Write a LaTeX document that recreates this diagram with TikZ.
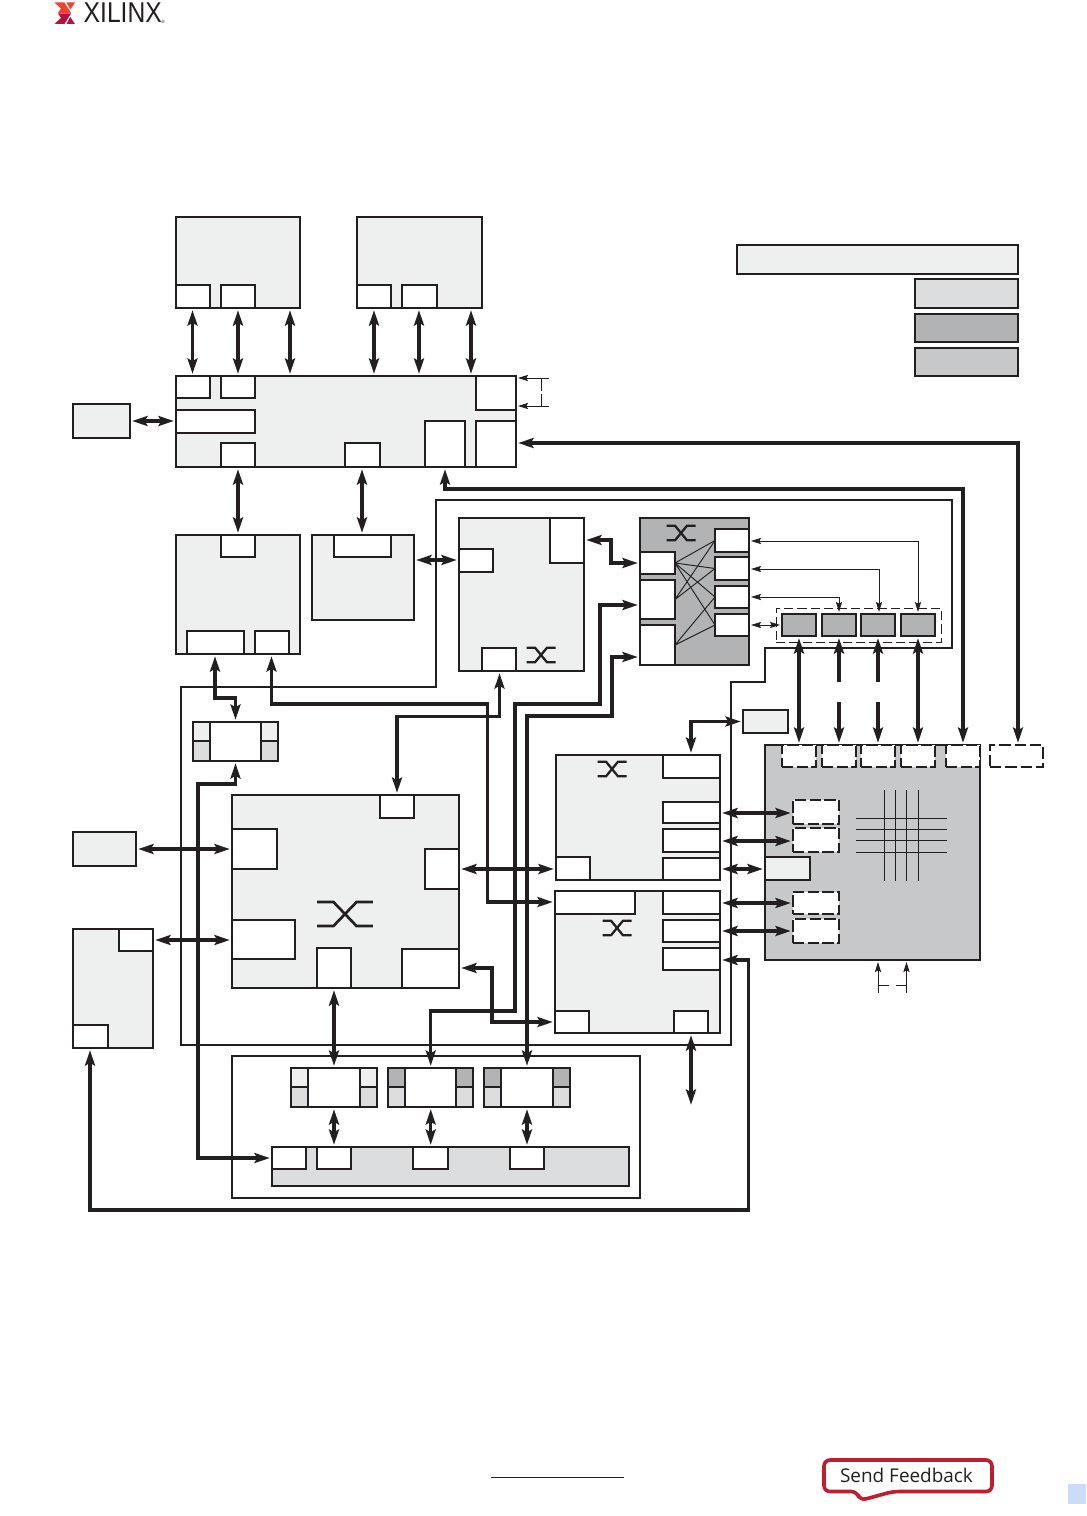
\documentclass[tikz,border=0pt]{standalone}
\usepackage{fontspec}
\setmainfont{Open Sans}
\newfontfamily\logofont{Liberation Sans}
\usetikzlibrary{arrows.meta}
\definecolor{ink}{HTML}{231F20}
\definecolor{lightc}{HTML}{EEF0EF}
\definecolor{midc}{HTML}{DCDDDE}
\definecolor{darkc}{HTML}{B1B3B4}
\definecolor{greyc}{HTML}{C6C8CA}
\definecolor{redc}{HTML}{BE1E2D}
\definecolor{orangec}{HTML}{EE4130}
\definecolor{crimc}{HTML}{B5123E}
\definecolor{bluec}{HTML}{C9DDFB}
\tikzset{
  px/.style={inner sep=0pt,outer sep=0pt,draw=ink,line width=1.5pt},
  whitebox/.style={px,fill=white},
  lightbox/.style={px,fill=lightc},
  midbox/.style={px,fill=midc},
  darkbox/.style={px,fill=darkc},
  greybox/.style={px,fill=greyc},
  dashbox/.style={px,fill=white,dash pattern=on 8.5pt off 2.5pt},
  openbox/.style={px,dash pattern=on 8.5pt off 3pt},
  thindash/.style={inner sep=0pt,outer sep=0pt,draw=ink,line width=.75pt,dash pattern=on 7pt off 3pt},
  thinframe/.style={draw=ink,line width=1.5pt},
  bigtip/.tip={Stealth[length=11.5pt,width=7.4pt,inset=2pt]},
  smalltip/.tip={Stealth[length=7.5pt,width=4.6pt,inset=1.2pt]},
  bus/.style={draw=ink,line width=2.3pt,miter limit=10,{bigtip}-{bigtip},shorten >=1.6pt,shorten <=1.6pt},
  busend/.style={draw=ink,line width=2.3pt,-{bigtip},shorten >=1.6pt},
  wire/.style={draw=ink,line width=.7pt,{smalltip}-{smalltip},shorten >=1.5pt,shorten <=1.5pt},
  wireend/.style={draw=ink,line width=.7pt,-{smalltip},shorten >=1.5pt},
  plain/.style={draw=ink,line width=.7pt},
  xwire/.style={draw=ink,line width=.7pt},
  swline/.style={draw=ink,line width=1.7pt},
}
\newcommand\boxpx[6]{%
  \pgfmathsetmacro\bw{(#5-#3)*0.75}%
  \pgfmathsetmacro\bh{(#6-#4)*0.75}%
  \pgfmathsetmacro\bcx{(#3+#5)/2}%
  \pgfmathsetmacro\bcy{(#4+#6)/2}%
  \node[#2,minimum width=\bw pt,minimum height=\bh pt] (#1) at (\bcx,\bcy) {};}
\newcommand\swicon[4]{%
  \begin{scope}[shift={(#1,#2)},xscale=#3,yscale=#4]
    \draw[swline] (-14.5,-7.3) -- (-6,-7.3) -- (6,7.3) -- (14.5,7.3);
    \draw[swline] (-14.5,7.3) -- (-6,7.3) -- (6,-7.3) -- (14.5,-7.3);
  \end{scope}}
\begin{document}
\begin{tikzpicture}[x=0.75pt,y=-0.75pt]
\useasboundingbox[fill=white] (0,0) rectangle (1086,1516);

% logo and footer
\fill[orangec] (54.5,2.5) -- (64.5,2.5) -- (71,13) -- (58,13) -- (61,8.5) -- cycle;
\fill[orangec] (66.5,2.5) -- (75,2.5) -- (70.3,9.5) -- cycle;
\fill[crimc] (58,13.5) -- (71,13.5) -- (64.5,24) -- (54.5,24) -- (61,18) -- cycle;
\fill[crimc] (66.5,24) -- (75,24) -- (70.3,17) -- cycle;
\node[inner sep=0pt,anchor=west,xscale=.86,font=\logofont\fontsize{21.5}{22}\selectfont,text=ink] (logotext) at (83.5,13) {XILINX};
\node[inner sep=0pt,font=\logofont\fontsize{3.5}{4}\selectfont,text=ink] (logomark) at (163,21.5) {®};
\coordinate (ulL) at (491,1477);
\coordinate (ulR) at (624,1477);
\draw[draw=ink,line width=.7pt] (ulL) -- (ulR);
\draw[redc,line width=2.7pt,fill=white,rounded corners=4.5pt]
  (824,1460) -- (992,1460) -- (992,1491.5) -- (893,1491.5) -- (860,1500.5) -- (857,1491.5) -- (824,1491.5) -- cycle;
\node[inner sep=0pt,text=ink,font=\fontsize{14.2}{16}\selectfont] (feedback) at (906.5,1475.5) {Send Feedback};
\fill[bluec] (1068,1484) rectangle (1086,1504);

% outer thin frame
\draw[thinframe] (436,500) -- (952,500) -- (952,648) -- (765,648) -- (765,682) -- (731,682) -- (731,1045) -- (181,1045) -- (181,687) -- (436,687) -- cycle;

% legend
\boxpx{lega}{lightbox}{737}{245}{1018}{274}
\boxpx{legb}{midbox}{915}{279}{1018}{308}
\boxpx{legc}{darkbox}{915}{314}{1018}{342}
\boxpx{legd}{greybox}{915}{348}{1018}{376}

% top memories
\boxpx{A}{lightbox}{176}{217}{300}{308}
\boxpx{Aa}{whitebox}{176}{285}{210}{308}
\boxpx{Ab}{whitebox}{221}{285}{255}{308}
\boxpx{B}{lightbox}{357}{217}{482}{308}
\boxpx{Ba}{whitebox}{357}{285}{391}{308}
\boxpx{Bb}{whitebox}{402}{285}{437}{308}

% main controller
\boxpx{C}{lightbox}{176}{376}{516}{467}
\boxpx{Ca}{whitebox}{176}{376}{210}{398}
\boxpx{Cb}{whitebox}{221}{376}{255}{398}
\boxpx{Cc}{whitebox}{176}{410}{255}{433}
\boxpx{Cd}{whitebox}{221}{443}{255}{467}
\boxpx{Ce}{whitebox}{345}{443}{380}{467}
\boxpx{Cf}{whitebox}{476}{376}{516}{410}
\boxpx{Cg}{whitebox}{425}{421}{465}{467}
\boxpx{Ch}{whitebox}{476}{421}{516}{467}
\boxpx{D}{lightbox}{73}{404}{130}{438}

% second row
\boxpx{E}{lightbox}{176}{535}{300}{654}
\boxpx{Ea}{whitebox}{221}{535}{255}{557}
\boxpx{Eb}{whitebox}{187}{631}{244}{654}
\boxpx{Ec}{whitebox}{255}{631}{289}{654}
\boxpx{F}{lightbox}{312}{535}{414}{620}
\boxpx{Fa}{whitebox}{334}{535}{391}{557}
\boxpx{G}{lightbox}{459}{518}{584}{671}
\boxpx{Ga}{whitebox}{550}{518}{584}{563}
\boxpx{Gb}{whitebox}{459}{549}{493}{572}
\boxpx{Gc}{whitebox}{482}{648}{516}{671}
\swicon{541}{655}{1}{1}

% grey switch
\boxpx{H}{darkbox}{640}{518}{749}{665}
\boxpx{Ha}{whitebox}{640}{552}{675}{574}
\boxpx{Hb}{whitebox}{640}{580}{675}{619}
\boxpx{Hc}{whitebox}{640}{625}{675}{665}
\boxpx{Hd}{whitebox}{715}{529}{749}{552}
\boxpx{He}{whitebox}{715}{557}{749}{580}
\boxpx{Hf}{whitebox}{715}{586}{749}{608}
\boxpx{Hg}{whitebox}{715}{614}{749}{636}
\swicon{681}{533}{1}{1}
\draw[xwire] (Ha.east) -- (Hd.west) (Ha.east) -- (He.west) (Ha.east) -- (Hf.west) (Ha.east) -- (Hg.west);
\draw[xwire] (Hb.east) -- (Hd.west) (Hb.east) -- (He.west);
\draw[xwire] (Hc.east) -- (Hf.west) (Hc.east) -- (Hg.west);

% grey ports
\boxpx{Rbox}{thindash}{776}{608}{941}{642}
\boxpx{Ra}{darkbox}{782}{614}{816}{636}
\boxpx{Rb}{darkbox}{822}{614}{856}{636}
\boxpx{Rc}{darkbox}{861}{614}{895}{636}
\boxpx{Rd}{darkbox}{901}{614}{935}{636}

% small bridge
\boxpx{J}{whitebox}{193}{722}{278}{761}
\boxpx{Ja}{lightbox}{193}{722}{210}{741}
\boxpx{Jb}{midbox}{193}{741}{210}{761}
\boxpx{Jc}{lightbox}{261}{722}{278}{741}
\boxpx{Jd}{midbox}{261}{741}{278}{761}

% large fabric
\boxpx{I}{lightbox}{232}{795}{459}{988}
\boxpx{Ia}{whitebox}{380}{795}{414}{818}
\boxpx{Ib}{whitebox}{232}{829}{277}{869}
\boxpx{Ic}{whitebox}{425}{849}{459}{889}
\boxpx{Id}{whitebox}{232}{920}{295}{959}
\boxpx{Ie}{whitebox}{317}{948}{351}{988}
\boxpx{If}{whitebox}{402}{949}{459}{988}
\begin{scope}[shift={(345,914)},xscale=1.93,yscale=1.65]
  \draw[draw=ink,line width=2pt] (-14.5,-7.3) -- (-6,-7.3) -- (6,7.3) -- (14.5,7.3);
  \draw[draw=ink,line width=2pt] (-14.5,7.3) -- (-6,7.3) -- (6,-7.3) -- (14.5,-7.3);
\end{scope}
\boxpx{L}{lightbox}{73}{832}{136}{866}
\boxpx{M}{lightbox}{73}{929}{153}{1048}
\boxpx{Ma}{whitebox}{119}{929}{153}{951}
\boxpx{Mb}{whitebox}{73}{1025}{108}{1048}

% right switches
\boxpx{N}{lightbox}{556}{755}{720}{880}
\boxpx{Na}{whitebox}{663}{755}{720}{778}
\boxpx{Nb}{whitebox}{663}{802}{720}{823}
\boxpx{Nc}{whitebox}{663}{829}{720}{852}
\boxpx{Nd}{whitebox}{663}{858}{720}{880}
\boxpx{Ne}{whitebox}{556}{857}{590}{880}
\swicon{612}{769}{1}{1}
\boxpx{O}{lightbox}{555}{891}{720}{1033}
\boxpx{Oa}{whitebox}{555}{891}{635}{914}
\boxpx{Ob}{whitebox}{663}{891}{720}{914}
\boxpx{Oc}{whitebox}{663}{920}{720}{942}
\boxpx{Od}{whitebox}{663}{948}{720}{970}
\boxpx{Oe}{whitebox}{555}{1011}{589}{1033}
\boxpx{Of}{whitebox}{674}{1011}{708}{1033}
\swicon{617}{928}{1}{1}
\boxpx{P}{lightbox}{743}{710}{788}{733}

% big grey block
\boxpx{Q}{greybox}{765}{745}{980}{960}
\boxpx{Qa}{dashbox}{782}{745}{816}{767}
\boxpx{Qb}{dashbox}{822}{745}{856}{767}
\boxpx{Qc}{dashbox}{861}{745}{895}{767}
\boxpx{Qd}{dashbox}{901}{745}{935}{767}
\boxpx{Qe}{dashbox}{946}{745}{980}{767}
\boxpx{DD}{openbox}{990}{745}{1043}{767}
\boxpx{Qf}{dashbox}{793}{800}{839}{824}
\boxpx{Qg}{dashbox}{793}{828}{839}{852}
\boxpx{Qh}{dashbox}{793}{892}{839}{914}
\boxpx{Qi}{dashbox}{793}{919}{839}{943}
\boxpx{Qj}{lightbox}{765}{857}{810}{880}
\draw[plain] (856,818) -- (947,818) (856,829) -- (947,829) (856,840) -- (947,840) (856,852) -- (947,852);
\draw[plain] (884.5,790) -- (884.5,881) (895.5,790) -- (895.5,881) (906.5,790) -- (906.5,881) (918.5,790) -- (918.5,881);

% bottom group
\boxpx{S}{whitebox}{232}{1056}{640}{1198}
\boxpx{Ta}{whitebox}{291}{1068}{377}{1107}
\boxpx{Taa}{lightbox}{291}{1068}{308}{1087}
\boxpx{Tab}{midbox}{291}{1087}{308}{1107}
\boxpx{Tac}{lightbox}{360}{1068}{377}{1087}
\boxpx{Tad}{midbox}{360}{1087}{377}{1107}
\boxpx{Tb}{whitebox}{388}{1068}{473}{1107}
\boxpx{Tba}{darkbox}{388}{1068}{405}{1087}
\boxpx{Tbb}{midbox}{388}{1087}{405}{1107}
\boxpx{Tbc}{darkbox}{456}{1068}{473}{1087}
\boxpx{Tbd}{midbox}{456}{1087}{473}{1107}
\boxpx{Tc}{whitebox}{484}{1068}{570}{1107}
\boxpx{Tca}{darkbox}{484}{1068}{501}{1087}
\boxpx{Tcb}{midbox}{484}{1087}{501}{1107}
\boxpx{Tcc}{darkbox}{553}{1068}{570}{1087}
\boxpx{Tcd}{midbox}{553}{1087}{570}{1107}
\boxpx{U}{midbox}{272}{1147}{629}{1186}
\boxpx{Ua}{whitebox}{272}{1147}{306}{1169}
\boxpx{Ub}{whitebox}{317}{1147}{351}{1169}
\boxpx{Uc}{whitebox}{413}{1147}{448}{1169}
\boxpx{Ud}{whitebox}{510}{1147}{544}{1169}

% ---- connectors ----
\draw[bus] (A.south -| 192.5,0) -- (C.north -| 192.5,0);
\draw[bus] (A.south -| 238,0) -- (C.north -| 238,0);
\draw[bus] (A.south -| 290,0) -- (C.north -| 290,0);
\draw[bus] (B.south -| 374,0) -- (C.north -| 374,0);
\draw[bus] (B.south -| 419,0) -- (C.north -| 419,0);
\draw[bus] (B.south -| 471,0) -- (C.north -| 471,0);
\draw[bus] (D.east) -- (C.west |- D.east);
\draw[bus] (C.south -| 238,0) -- (E.north -| 238,0);
\draw[bus] (C.south -| 362,0) -- (F.north -| 362,0);
\draw[bus] (F.east |- 0,560) -- (G.west |- 0,560);
\draw[bus] (G.east |- 0,540) -- (611,540) -- (611,563) -- (H.west |- 0,563);

% small signals at the top right of the controller
\coordinate (ckR) at (549,378);
\coordinate (ckS) at (549,406);
\draw[wireend] (ckR) -- (C.east |- ckR);
\draw[wireend] (ckS) -- (C.east |- ckS);
\draw[plain] (541.7,378) -- (541.7,391) (541.7,394) -- (541.7,406);

% long buses
\draw[bus] (C.east |- 0,443) -- (1018,443) -- (DD.north -| 1018,0);
\draw[bus] (C.south -| 445,0) -- (445,489) -- (963,489) -- (Q.north -| 963,0);

% grey switch to ports
\draw[wire] (H.east |- 0,541) -- (918,541) -- (Rd.north -| 918,0);
\draw[wire] (H.east |- 0,569) -- (879,569) -- (Rc.north -| 879,0);
\draw[wire] (H.east |- 0,597) -- (839,597) -- (Rb.north -| 839,0);
\draw[wire] (H.east |- 0,625) -- (Ra.west |- 0,625);
\draw[bus] (Ra.south -| 799,0) -- (Q.north -| 799,0);
\draw[bus] (Rd.south -| 918,0) -- (Q.north -| 918,0);
\coordinate (gapA) at (839,682);
\coordinate (gapB) at (839,702);
\coordinate (gapC) at (878,682);
\coordinate (gapD) at (878,702);
\draw[busend] (gapA) -- (Rb.south -| gapA);
\draw[busend] (gapB) -- (Q.north -| gapB);
\draw[busend] (gapC) -- (Rc.south -| gapC);
\draw[busend] (gapD) -- (Q.north -| gapD);

% feeds into the grey switch
\draw[bus] (Tb.north -| 430.7,0) -- (430.7,1011) -- (515,1011) -- (515,704) -- (600,704) -- (600,605) -- (H.west |- 0,605);
\draw[bus] (Tc.north -| 527,0) -- (527,716) -- (612,716) -- (612,657) -- (H.west |- 0,657);

% upper-left routes
\draw[bus] (E.south -| 215,0) -- (215,698) -- (235.5,698) -- (J.north -| 235.5,0);
\draw[bus] (E.south -| 271.5,0) -- (271.5,704) -- (487.5,704) -- (487.5,902) -- (O.west |- 0,902);
\draw[bus] (G.south -| 499.5,0) -- (499.5,716.5) -- (397,716.5) -- (I.north -| 397,0);
\draw[bus] (J.south -| 235.5,0) -- (235.5,784) -- (198,784) -- (198,1158) -- (U.west |- 0,1158);
\draw[bus] (L.east |- 0,849) -- (I.west |- 0,849);
\draw[bus] (M.east |- 0,940) -- (I.west |- 0,940);
\draw[bus] (I.south -| 334,0) -- (Ta.north -| 334,0);

% fabric to switches
\draw[bus] (I.east |- 0,869) -- (N.west |- 0,869);
\draw[bus] (I.east |- 0,968) -- (492,968) -- (492,1022) -- (O.west |- 0,1022);

% switches to block
\draw[bus] (N.east |- 0,813) -- (Qf.west |- 0,813);
\draw[bus] (N.east |- 0,841) -- (Qg.west |- 0,841);
\draw[bus] (N.east |- 0,869) -- (Q.west |- 0,869);
\draw[bus] (O.east |- 0,903) -- (Qh.west |- 0,903);
\draw[bus] (O.east |- 0,931) -- (Qi.west |- 0,931);
\draw[bus] (O.east |- 0,960) -- (748.5,960) -- (748.5,1210) -- (90,1210) -- (M.south -| 90,0);
\draw[bus] (P.west |- 0,721.5) -- (691,721.5) -- (N.north -| 691,0);
\coordinate (freeO) at (691,1107);
\draw[bus] (O.south -| freeO) -- (freeO);

% bottom group
\draw[bus] (Ta.south -| 334,0) -- (U.north -| 334,0);
\draw[bus] (Tb.south -| 430.7,0) -- (U.north -| 430.7,0);
\draw[bus] (Tc.south -| 527,0) -- (U.north -| 527,0);

% thin inputs under the block
\coordinate (inA) at (878,992.5);
\coordinate (inB) at (906.5,992.5);
\draw[wireend] (inA) -- (Q.south -| inA);
\draw[wireend] (inB) -- (Q.south -| inB);
\draw[plain] (878,985.5) -- (888.5,985.5) (896,985.5) -- (906.5,985.5);
\end{tikzpicture}
\end{document}
